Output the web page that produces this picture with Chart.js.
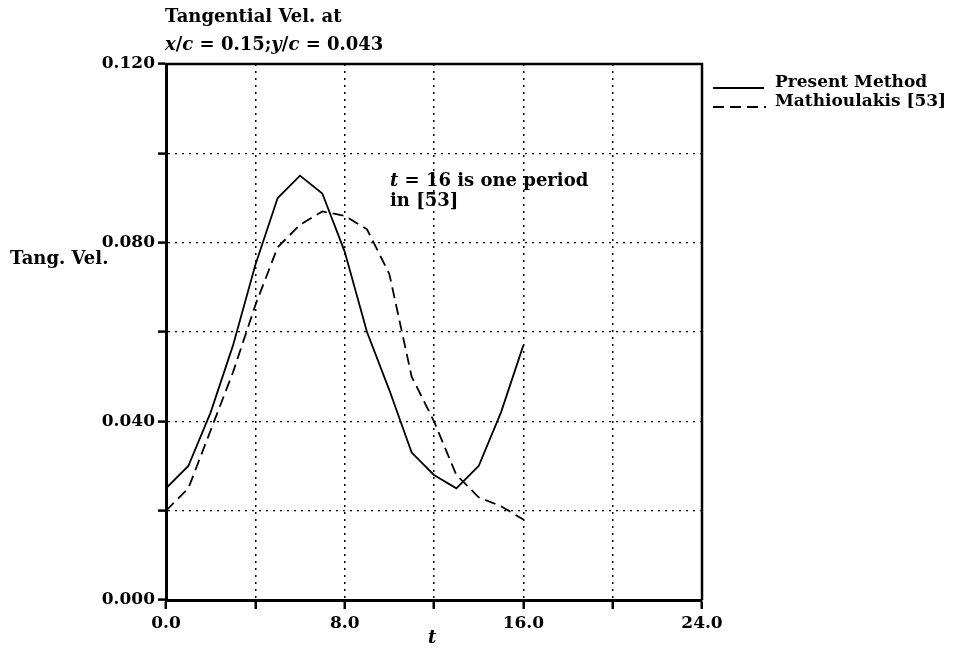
<!DOCTYPE html>
<html lang="en">
<head>
    <meta charset="UTF-8">
    <title>Tangential Velocity</title>
    <style>
        body { margin: 0; padding: 0; background: #fff; }
        #wrap { width: 954px; height: 648px; position: relative; }
    </style>
</head>
<body>
    <div id="wrap"><canvas id="velChart" width="954" height="648"></canvas></div>
    <script src="https://cdn.jsdelivr.net/npm/chart.js"></script>
    <script>
        // data
        const timeSteps = [0, 1, 2, 3, 4, 5, 6, 7, 8, 9, 10, 11, 12, 13, 14, 15, 16];
        const presentMethod = [0.025, 0.030, 0.042, 0.057, 0.075, 0.090, 0.095, 0.091, 0.078, 0.060, 0.047, 0.033, 0.028, 0.025, 0.030, 0.042, 0.057];
        const mathioulakis = [0.020, 0.025, 0.038, 0.051, 0.066, 0.079, 0.084, 0.087, 0.086, 0.083, 0.073, 0.050, 0.040, 0.028, 0.023, 0.021, 0.018];
        const yLabelled = [0, 0.04, 0.08, 0.12];
        const xLabelled = [0, 8, 16, 24];

        const SERIF = '"DejaVu Serif", serif';
        const bold = size => 'bold ' + size + 'px ' + SERIF;
        const boldIt = size => 'italic bold ' + size + 'px ' + SERIF;

        function toPoints(vals) {
            return vals.map((v, i) => ({ x: timeSteps[i], y: v }));
        }

        // draws a row of text runs, some in italic
        function drawRuns(ctx, runs, x, y, size) {
            let cx = x;
            runs.forEach(([txt, it]) => {
                ctx.font = it ? boldIt(size) : bold(size);
                ctx.fillText(txt, cx, y);
                cx += ctx.measureText(txt).width;
            });
        }

        const decorations = {
            id: 'decorations',
            afterDraw(chart) {
                const ctx = chart.ctx;
                const a = chart.chartArea;
                ctx.save();
                // frame on top and right
                ctx.strokeStyle = '#000';
                ctx.lineWidth = 2.5;
                ctx.beginPath();
                ctx.moveTo(a.left, a.top);
                ctx.lineTo(a.right, a.top);
                ctx.lineTo(a.right, a.bottom);
                ctx.stroke();

                ctx.fillStyle = '#000';
                ctx.textBaseline = 'alphabetic';
                ctx.textAlign = 'left';
                drawRuns(ctx, [['Tangential Vel. at', false]], 165, 22, 18);
                drawRuns(ctx, [['x', true], ['/', false], ['c', true], [' = 0.15;', false],
                               ['y', true], ['/', false], ['c', true], [' = 0.043', false]], 165, 50, 18);

                // y title
                drawRuns(ctx, [['Tang. Vel.', false]], 10, 264, 18);
                // x title
                drawRuns(ctx, [['t', true]], 428, 643, 18);

                // annotation
                drawRuns(ctx, [['t', true], [' = 16 is one period', false]], 390, 186, 18);
                drawRuns(ctx, [['in [53]', false]], 390, 206, 18);

                // legend
                ctx.lineWidth = 1.8;
                ctx.beginPath();
                ctx.moveTo(713, 88);
                ctx.lineTo(764, 88);
                ctx.stroke();
                ctx.setLineDash([11, 6]);
                ctx.beginPath();
                ctx.moveTo(713, 107);
                ctx.lineTo(766, 107);
                ctx.stroke();
                ctx.setLineDash([]);
                drawRuns(ctx, [['Present Method', false]], 775, 87, 17);
                drawRuns(ctx, [['Mathioulakis [53]', false]], 775, 106, 17);
                ctx.restore();
            }
        };

        document.addEventListener('DOMContentLoaded', () => {
            const ctx = document.getElementById('velChart').getContext('2d');

            new Chart(ctx, {
                type: 'line',
                data: {
                    datasets: [{
                        label: 'Present Method',
                        data: toPoints(presentMethod),
                        borderColor: '#000',
                        borderWidth: 1.8,
                        pointRadius: 0,
                        tension: 0,
                        fill: false
                    }, {
                        label: 'Mathioulakis [53]',
                        data: toPoints(mathioulakis),
                        borderColor: '#000',
                        borderWidth: 1.8,
                        borderDash: [11, 6],
                        pointRadius: 0,
                        tension: 0,
                        fill: false
                    }]
                },
                options: {
                    responsive: false,
                    animation: false,
                    layout: { padding: { left: 0, top: 64, right: 252, bottom: 0 } },
                    plugins: {
                        legend: { display: false },
                        tooltip: { enabled: false }
                    },
                    scales: {
                        x: {
                            type: 'linear',
                            min: 0,
                            max: 24,
                            afterFit: s => { s.height = 48; },
                            ticks: {
                                stepSize: 4,
                                color: '#000',
                                font: { family: SERIF, size: 17, weight: 'bold' },
                                padding: 4,
                                maxRotation: 0,
                                autoSkip: false,
                                callback: v => xLabelled.includes(v) ? v.toFixed(1) : ''
                            },
                            grid: {
                                color: '#000',
                                lineWidth: 1.5,
                                tickLength: 9,
                                tickWidth: 2.5,
                                tickBorderDash: []
                            },
                            border: { color: '#000', width: 3, dash: [2, 5] }
                        },
                        y: {
                            min: 0,
                            max: 0.12,
                            afterFit: s => { s.width = 166; },
                            ticks: {
                                stepSize: 0.02,
                                color: '#000',
                                font: { family: SERIF, size: 17, weight: 'bold' },
                                padding: 3,
                                autoSkip: false,
                                callback: v => yLabelled.some(l => Math.abs(l - v) < 1e-9) ? v.toFixed(3) : ''
                            },
                            grid: {
                                color: '#000',
                                lineWidth: 1.2,
                                tickLength: 8,
                                tickWidth: 2.5,
                                tickBorderDash: []
                            },
                            border: { color: '#000', width: 3, dash: [2, 5] }
                        }
                    }
                },
                plugins: [decorations]
            });
        });
    </script>
</body>
</html>
